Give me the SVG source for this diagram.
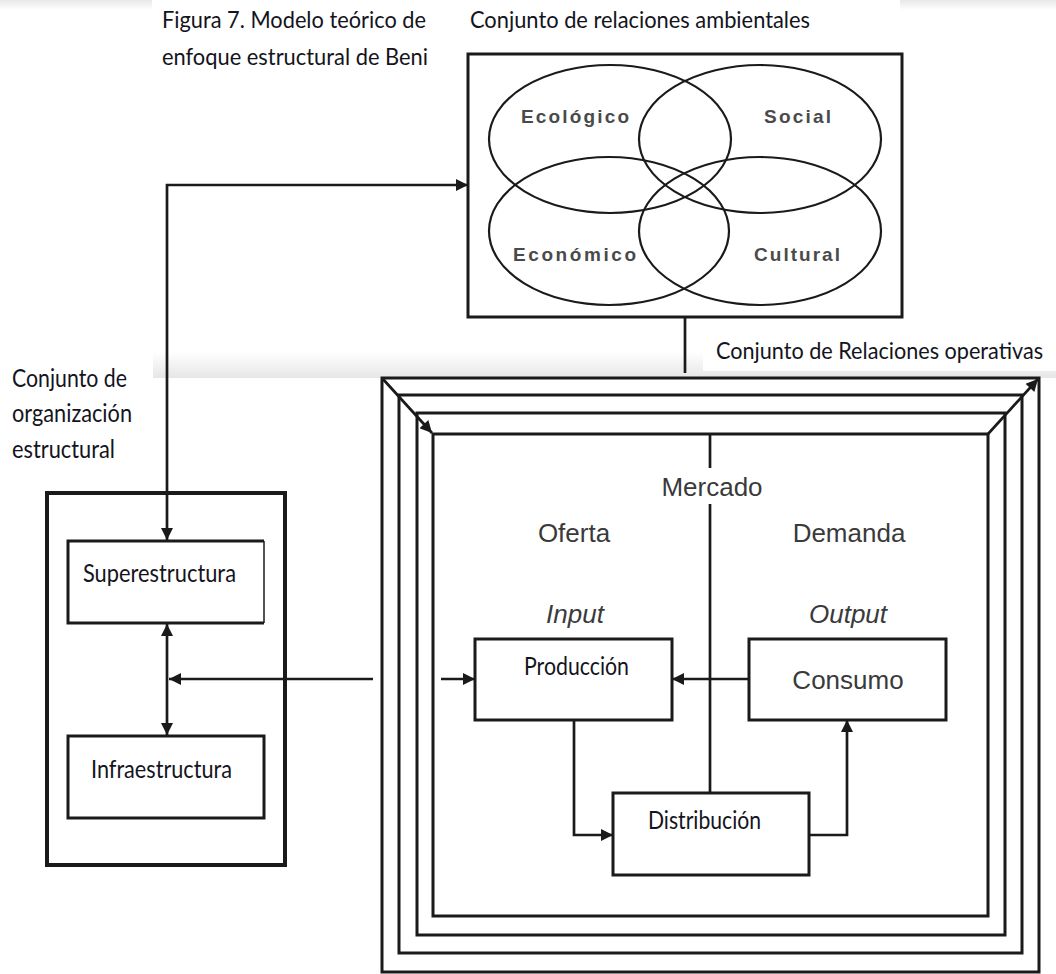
<svg xmlns="http://www.w3.org/2000/svg" width="1056" height="974" viewBox="0 0 1056 974">
  <style>
    .cal { font-family: Lato, "Open Sans", "Liberation Sans", sans-serif; fill: #141420; }
    .ari { font-family: "Liberation Sans", Arial, sans-serif; fill: #3a3a3a; }
    .venn { font-family: "Liberation Sans", Arial, sans-serif; font-weight: bold; font-size: 19px; fill: #4a4a4a; }
    .box { fill: #fff; stroke: #1a1a1a; stroke-width: 3; }
    .ell { fill: none; stroke: #1a1a1a; stroke-width: 2.2; }
    .frame { fill: none; stroke: #1a1a1a; stroke-width: 3; }
    .wire { fill: none; stroke: #1a1a1a; stroke-width: 2.7; }
  </style>
  <defs>
    <marker id="ah" viewBox="0 0 10 10" refX="10" refY="5" markerWidth="15" markerHeight="12" markerUnits="userSpaceOnUse" orient="auto-start-reverse">
      <path d="M0,0 L10,5 L0,10 z" fill="#1a1a1a"/>
    </marker>
    <linearGradient id="fadeDown" x1="0" y1="0" x2="0" y2="1">
      <stop offset="0" stop-color="#e8e8e8"/>
      <stop offset="1" stop-color="#ffffff"/>
    </linearGradient>
    <linearGradient id="fadeUp" x1="0" y1="0" x2="0" y2="1">
      <stop offset="0" stop-color="#ffffff"/>
      <stop offset="1" stop-color="#e6e6e6"/>
    </linearGradient>
  </defs>

  <rect width="1056" height="974" fill="#fff"/>
  <!-- page shading strips -->
  <rect x="0" y="0" width="152" height="10" fill="url(#fadeDown)"/>
  <rect x="900" y="0" width="156" height="10" fill="url(#fadeDown)"/>
  <rect x="153" y="352" width="903" height="26" fill="url(#fadeUp)"/>
  <rect x="703" y="330" width="353" height="41" fill="#fff"/>

  <!-- headings -->
  <g id="titulo">
    <text class="cal" x="162" y="28" font-size="24" textLength="264" lengthAdjust="spacingAndGlyphs">Figura 7. Modelo teórico de</text>
    <text class="cal" x="162" y="65" font-size="24" textLength="266" lengthAdjust="spacingAndGlyphs">enfoque estructural de Beni</text>
  </g>
  <g id="etiqueta-ambientales">
    <text class="cal" x="470" y="28" font-size="24" textLength="340" lengthAdjust="spacingAndGlyphs">Conjunto de relaciones ambientales</text>
  </g>
  <g id="etiqueta-operativas">
    <text class="cal" x="716" y="359" font-size="24" textLength="327" lengthAdjust="spacingAndGlyphs">Conjunto de Relaciones  operativas</text>
  </g>
  <g id="etiqueta-estructural">
    <text class="cal" x="12" y="387" font-size="25" textLength="115" lengthAdjust="spacingAndGlyphs">Conjunto de</text>
    <text class="cal" x="12" y="422" font-size="25" textLength="120" lengthAdjust="spacingAndGlyphs">organización</text>
    <text class="cal" x="12" y="458" font-size="25" textLength="103" lengthAdjust="spacingAndGlyphs">estructural</text>
  </g>

  <!-- environmental relations: four overlapping sets -->
  <g id="ambientales">
    <rect class="box" x="468" y="54" width="434" height="263" stroke-width="3"/>
    <ellipse class="ell" cx="610" cy="139" rx="121" ry="74"/>
    <ellipse class="ell" cx="760" cy="139" rx="121" ry="74"/>
    <ellipse class="ell" cx="609" cy="231" rx="120" ry="74"/>
    <ellipse class="ell" cx="760" cy="231" rx="121" ry="74"/>
    <text class="venn" x="521" y="123" textLength="108" lengthAdjust="spacing">Ecológico</text>
    <text class="venn" x="764" y="123" textLength="67" lengthAdjust="spacing">Social</text>
    <text class="venn" x="513" y="261" textLength="123" lengthAdjust="spacing">Económico</text>
    <text class="venn" x="754" y="261" textLength="86" lengthAdjust="spacing">Cultural</text>
  </g>

  <!-- structural organisation -->
  <g id="organizacion">
    <rect x="47" y="493" width="238" height="372" fill="none" stroke="#1a1a1a" stroke-width="4"/>
  </g>
  <g id="superestructura">
    <path d="M264,541 L68,541 L68,623 L264,623" fill="#fff" stroke="#1a1a1a" stroke-width="3"/>
    <path d="M264,541 L264,623" stroke="#1a1a1a" stroke-width="1.5"/>
    <text class="cal" x="83" y="582" font-size="25" textLength="153" lengthAdjust="spacingAndGlyphs">Superestructura</text>
  </g>
  <g id="infraestructura">
    <rect class="box" x="68" y="736" width="196" height="82"/>
    <text class="cal" x="91" y="778" font-size="25" textLength="141" lengthAdjust="spacingAndGlyphs">Infraestructura</text>
  </g>

  <!-- operational relations: nested frames -->
  <g id="operativas">
    <rect class="frame" x="382" y="378" width="657" height="594"/>
    <rect class="frame" x="399" y="395" width="623" height="558"/>
    <rect class="frame" x="417" y="413" width="588" height="522"/>
    <rect class="frame" x="433" y="434" width="555" height="482"/>
    <path class="wire" d="M382,378 L432,433" marker-end="url(#ah)"/>
    <path class="wire" d="M988,434 L1038,379" marker-end="url(#ah)"/>
  </g>

  <g id="mercado">
    <text class="ari" x="712" y="496" font-size="26" text-anchor="middle">Mercado</text>
    <text class="ari" x="574" y="542" font-size="26" text-anchor="middle">Oferta</text>
    <text class="ari" x="849" y="542" font-size="26" text-anchor="middle">Demanda</text>
    <text class="ari" x="575" y="623" font-size="26" font-style="italic" text-anchor="middle">Input</text>
    <text class="ari" x="848" y="623" font-size="26" font-style="italic" text-anchor="middle">Output</text>
  </g>

  <g id="produccion">
    <rect class="box" x="475" y="639" width="197" height="81"/>
    <text class="cal" x="524" y="675" font-size="25" textLength="105" lengthAdjust="spacingAndGlyphs">Producción</text>
  </g>
  <g id="consumo">
    <rect class="box" x="749" y="639" width="197" height="81"/>
    <text class="ari" x="848" y="689" font-size="26" text-anchor="middle">Consumo</text>
  </g>
  <g id="distribucion">
    <rect class="box" x="613" y="793" width="196" height="82"/>
    <text class="cal" x="648" y="829" font-size="25" textLength="113" lengthAdjust="spacingAndGlyphs">Distribución</text>
  </g>

  <!-- connectors -->
  <g id="conectores">
    <!-- organisation set to environmental set -->
    <path class="wire" d="M167,540 L167,185 L468,185" marker-start="url(#ah)" marker-end="url(#ah)"/>
    <!-- environmental set down to operational set -->
    <path class="wire" d="M685,317 L685,373"/>
    <!-- superestructura / infraestructura -->
    <path class="wire" d="M167,624 L167,735" marker-start="url(#ah)" marker-end="url(#ah)"/>
    <!-- operational set back to organisation -->
    <path class="wire" d="M373,679 L169,679" marker-end="url(#ah)"/>
    <!-- into production -->
    <path class="wire" d="M441,679 L475,679" marker-end="url(#ah)"/>
    <!-- consumption feeds back to production -->
    <path class="wire" d="M749,679 L672,679" marker-end="url(#ah)"/>
    <!-- production to distribution -->
    <path class="wire" d="M574,720 L574,835 L613,835" marker-end="url(#ah)"/>
    <!-- distribution to consumption -->
    <path class="wire" d="M809,835 L847,835 L847,720" marker-end="url(#ah)"/>
    <!-- market divider -->
    <path class="wire" d="M710,434 L710,468"/>
    <path class="wire" d="M710,504 L710,793"/>
  </g>
</svg>
